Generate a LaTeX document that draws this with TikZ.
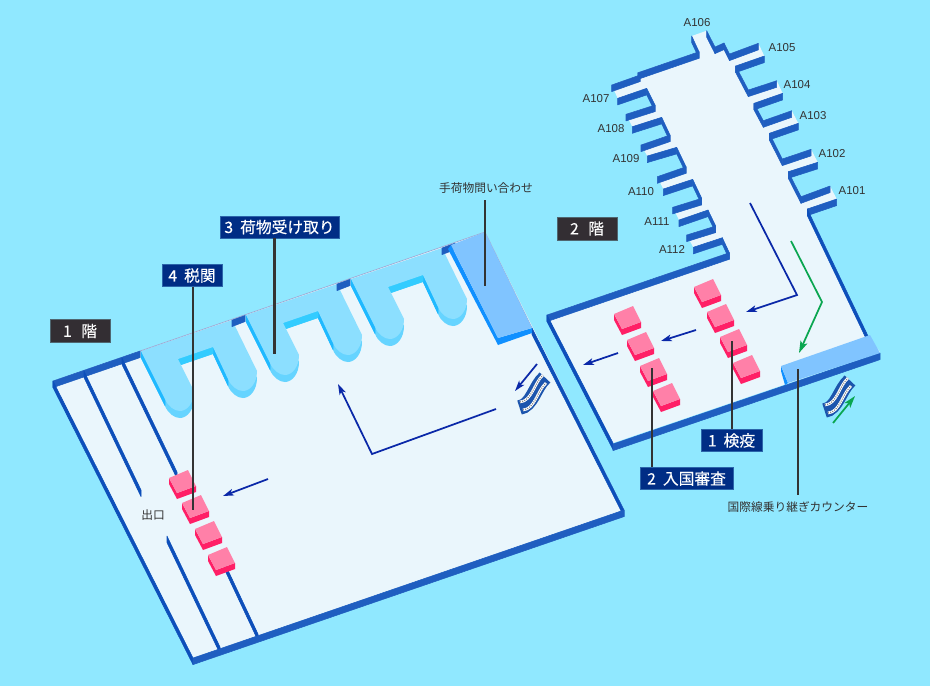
\documentclass[tikz,border=0pt]{standalone}
\usepackage{fontspec}
\setmainfont{Liberation Sans}
\newfontfamily\cjk{Noto Sans CJK JP}
\newfontfamily\cjkb[FakeBold=0.2]{Noto Sans CJK JP}
\usetikzlibrary{arrows.meta}
\definecolor{skybg}{HTML}{90E8FF}
\definecolor{floorc}{HTML}{EAF6FC}
\definecolor{wallband}{HTML}{1F5EC0}
\definecolor{wallside}{HTML}{0D4FBA}
\definecolor{beltTop}{HTML}{8CDFFF}
\definecolor{beltDepth}{HTML}{66D4FF}
\definecolor{beltEdge}{HTML}{1FB9FF}
\definecolor{beltNotch}{HTML}{33CCFF}
\definecolor{deskTop}{HTML}{80C4FF}
\definecolor{deskEdge}{HTML}{1090FF}
\definecolor{edgeLine}{HTML}{9AA8D4}
\definecolor{pinkTop}{HTML}{FF80A8}
\definecolor{pinkSide}{HTML}{FF1F66}
\definecolor{navy}{HTML}{002D85}
\definecolor{floorTag}{HTML}{332E33}
\definecolor{routeBlue}{HTML}{0A28A8}
\definecolor{routeGreen}{HTML}{0AA650}
\definecolor{leaderc}{HTML}{333333}
\tikzset{
  navytag/.style={fill=navy,draw=navy!70!skybg,line width=.4pt,text=white,inner sep=0pt,font=\cjkb\fontsize{11.8}{13}\selectfont},
  floortag/.style={fill=floorTag,draw=floorTag!70!skybg,line width=.4pt,text=white,inner sep=0pt,font=\cjkb\fontsize{11.8}{13}\selectfont},
  gatelabel/.style={text=leaderc,inner sep=0pt,font=\fontsize{8.6}{10}\selectfont},
  calllabel/.style={text=leaderc,inner sep=0pt,minimum height=18pt,font=\cjk\fontsize{8.8}{10}\selectfont},
  leader/.style={draw=leaderc,line width=1.7pt},
  routeline/.style={draw=routeBlue,line width=1.3pt,-{Stealth[length=8pt,width=5pt,inset=2pt]}},
  greenline/.style={draw=routeGreen,line width=1.3pt,-{Stealth[length=9pt,width=5.5pt,inset=2pt]}}
}
% extruded wall: top edge polyline plus a vertical face below it
\newcommand\wall[2]{\foreach \px/\py [remember=\px as \lx (initially -1),remember=\py as \ly (initially 0)] in {#2}{%
  \ifdim\lx pt>0pt\filldraw[#1,line width=.4pt,line join=round] (\lx,\ly)--(\px,\py)--(\px,\py+6.6)--(\lx,\ly+6.6)--cycle;\fi}}
\newcommand\beltshape{(141,351) -- (165,399) .. controls (168,406) and (174,411) .. (180,411)
  .. controls (187,411) and (194,403) .. (194,391) -- (178,359) -- (213,347) -- (228,379)
  .. controls (231,386) and (237,391) .. (243,391) .. controls (250,391) and (257,383) .. (257,371)
  -- (232,320) -- cycle}
\newcommand\pinkbox[2]{\begin{scope}[shift={(#1,#2)}]
  \fill[pinkSide] (0,0)--(8,15)--(27,8)--(27,14)--(8,21)--(0,6)--cycle;
  \fill[pinkTop] (0,0)--(19,-8)--(27,8)--(8,15)--cycle;
\end{scope}}
\newcommand\escal[2]{\begin{scope}[shift={(#1,#2)}]
  \draw[wallband!90!black,line width=11pt] (-13.5,15.5) .. controls (-1,14) and (2,-6) .. (12,-14.5);
  \foreach \dx/\dy in {0/0,3/8}{%
    \draw[white,line width=2pt] (-13+\dx,10+\dy) .. controls (-1+\dx,9+\dy) and (1+\dx,-9+\dy) .. (10+\dx,-17+\dy);
    \draw[gray,line width=.9pt,dash pattern=on .7pt off 1pt] (-13+\dx,10+\dy) .. controls (-1+\dx,9+\dy) and (1+\dx,-9+\dy) .. (10+\dx,-17+\dy);
  }
\end{scope}}
\begin{document}
\begin{tikzpicture}[x=.75pt,y=-.75pt]
\useasboundingbox (0,0) rectangle (930,686);
\fill[skybg] (0,0) rectangle (930,686);

% ---------- floor 1
\fill[floorc] (53,381)--(485,232)--(624,510)--(193,658)--cycle;
\foreach \k in {0,1,2}{%
  \begin{scope}[shift={(105*\k,-36*\k)}]
    \begin{scope}[yshift=-5.25pt]\fill[beltDepth] \beltshape;\end{scope}
    \wall{beltEdge}{141/351,165/399}
    \wall{beltEdge}{213/347,228/379}
    \wall{beltNotch}{178/359,213/347}
    \fill[beltTop] \beltshape;
    \wall{wallband}{232/320,245/315}
  \end{scope}
}
\draw[edgeLine,line width=.5pt] (140,351)--(485,232)--(532,328);
\wall{wallband}{53/381,140/351}
\wall{wallside}{53/381,193/658}
\wall{wallside}{84/371,141/490}
\wall{wallside}{167/536,220/647}
\wall{wallside}{122/358,177/472}
\wall{wallside}{226/566,258/634}
\wall{wallside}{532/328,624/510}
\wall{wallband}{193/658,624/510}
% baggage desk
\fill[deskEdge] (451,245)--(498,338)--(498,345)--(448,249)--cycle;
\fill[deskEdge] (498,338)--(532,328)--(532,333)--(498,345)--cycle;
\fill[deskTop] (451,245)--(485,232)--(532,328)--(498,338)--cycle;
\foreach \x/\y in {169/478,182/503,195/529,208/555}{\pinkbox{\x}{\y}}
\escal{533}{392}

% ---------- floor 2
\fill[floorc] (547,315)--(729.3,252.7)--(722.3,237.7)--(693.3,247.3)--(686.7,235)--(715.7,226)--(708,210)--(679,220)--(672.7,207.3)--(701.7,198.3)--(692.7,179.3)--(663.3,189)--(657.3,176.7)--(686,166.7)--(676.7,147.3)--(647.3,156)--(641,145)--(670,135)--(661.7,117.3)--(632.3,126.7)--(626,114.3)--(655,105)--(646.7,88.3)--(617.7,98.3)--(611.7,85)--(640,75)--(638,72.7)--(699,51.7)--(691.7,36)--(706.7,30.7)--(715,47)--(724,43)--(729.5,54)--(758.3,43.3)--(764.3,56)--(735.7,66)--(748.3,90)--(776.7,80.7)--(782.7,93.3)--(754,103.3)--(763.3,120.7)--(791.7,110.7)--(798.3,123.3)--(769.3,133.3)--(782.3,159)--(811,149.3)--(817.7,162.3)--(788.3,171.7)--(801,196.7)--(830,186)--(836.7,199)--(807.3,209)--(868,336)--(880,352)--(613,443)--cycle;
\wall{wallband}{691.7/36,699/51.7,638/72.7,640/75,611.7/85}
\wall{wallband}{617.7/98.3,646.7/88.3,655/105,626/114.3}
\wall{wallband}{632.3/126.7,661.7/117.3,670/135,641/145}
\wall{wallband}{647.3/156,676.7/147.3,686/166.7,657.3/176.7}
\wall{wallband}{663.3/189,692.7/179.3,701.7/198.3,672.7/207.3}
\wall{wallband}{679/220,708/210,715.7/226,686.7/235}
\wall{wallband}{693.3/247.3,722.3/237.7,729.3/252.7,547/315}
\wall{wallband}{706.7/30.7,715/47,724/43,729.5/54,758.3/43.3}
\wall{wallband}{764.3/56,735.7/66,748.3/90,776.7/80.7}
\wall{wallband}{782.7/93.3,754/103.3,763.3/120.7,791.7/110.7}
\wall{wallband}{798.3/123.3,769.3/133.3,782.3/159,811/149.3}
\wall{wallband}{817.7/162.3,788.3/171.7,801/196.7,830/186}
\wall{wallband}{836.7/199,807.3/209}
\wall{wallside}{807.3/209,868/336}
\wall{wallside}{547/315,613/443}
\wall{wallband}{613/444,880/353}
% transfer desk
\fill[deskEdge] (781,366)--(788,383)--(785,385)--(781,371)--cycle;
\fill[deskTop] (781,366)--(870,335)--(880,353)--(788,383)--cycle;
\foreach \x/\y in {694/287,707/312,720/337,733/363,614/314,627/340,640/366,653/391}{\pinkbox{\x}{\y}}
\escal{838}{395}

% ---------- route arrows
\draw[routeline] (268,479)--(223,496);
\draw[routeline] (496,409)--(372,454)--(338,384);
\draw[routeline] (537,364)--(515,391);
\draw[routeline] (750,203)--(797,295)--(746,312);
\draw[routeline] (696,330)--(661,341);
\draw[routeline] (618,353)--(583,365);
\draw[greenline] (791,241)--(822,302)--(799,353);
\draw[greenline] (833,423)--(855,396);

% ---------- labels
\node[navytag,minimum width=89.25pt,minimum height=16.5pt] (belts) at (279.5,227) {3\hspace{.45em}荷物受け取り};
\node[navytag,minimum width=45pt,minimum height=16.5pt] (customs) at (192,275.5) {4\hspace{.45em}税関};
\node[floortag,minimum width=45pt,minimum height=17.25pt] (f1) at (80,331) {1\hspace{.6em}階};
\node[floortag,minimum width=45pt,minimum height=17.25pt] (f2) at (587,228.5) {2\hspace{.6em}階};
\node[navytag,minimum width=45.75pt,minimum height=16.5pt] (quarantine) at (731.5,440.5) {1\hspace{.45em}検疫};
\node[navytag,minimum width=69.75pt,minimum height=16.5pt] (immig) at (686.5,478.5) {2\hspace{.45em}入国審査};
\node[calllabel] (bagdesk) at (486,188) {手荷物問い合わせ};
\node[calllabel] (transfer) at (798,507) {国際線乗り継ぎカウンター};
\node[calllabel,minimum height=0pt] (exit1) at (153,515) {出口};
\node[gatelabel] (a106) at (697,22.7) {A106};
\node[gatelabel] (a105) at (782,47.7) {A105};
\node[gatelabel] (a104) at (797,84.7) {A104};
\node[gatelabel] (a103) at (813,115.7) {A103};
\node[gatelabel] (a102) at (832,153.7) {A102};
\node[gatelabel] (a101) at (852,190.7) {A101};
\node[gatelabel] (a107) at (596,98.7) {A107};
\node[gatelabel] (a108) at (611,128.7) {A108};
\node[gatelabel] (a109) at (626,158.7) {A109};
\node[gatelabel] (a110) at (641,191.7) {A110};
\node[gatelabel] (a111) at (657,221.7) {A111};
\node[gatelabel] (a112) at (672,249.7) {A112};

% ---------- leaders
\coordinate (beltsEnd) at (274.5,354);
\coordinate (customsEnd) at (192.7,510);
\coordinate (bagEnd) at (485,286);
\coordinate (quarEnd) at (731.7,341);
\coordinate (immigEnd) at (652,368);
\coordinate (transEnd) at (797.7,369);
\draw[leader] (belts.south -| beltsEnd) -- (beltsEnd);
\draw[leader] (customs.south -| customsEnd) -- (customsEnd);
\draw[leader] (bagdesk.south -| bagEnd) -- (bagEnd);
\draw[leader] (quarantine.north -| quarEnd) -- (quarEnd);
\draw[leader] (immig.north -| immigEnd) -- (immigEnd);
\draw[leader] (transfer.north -| transEnd) -- (transEnd);
\end{tikzpicture}
\end{document}
